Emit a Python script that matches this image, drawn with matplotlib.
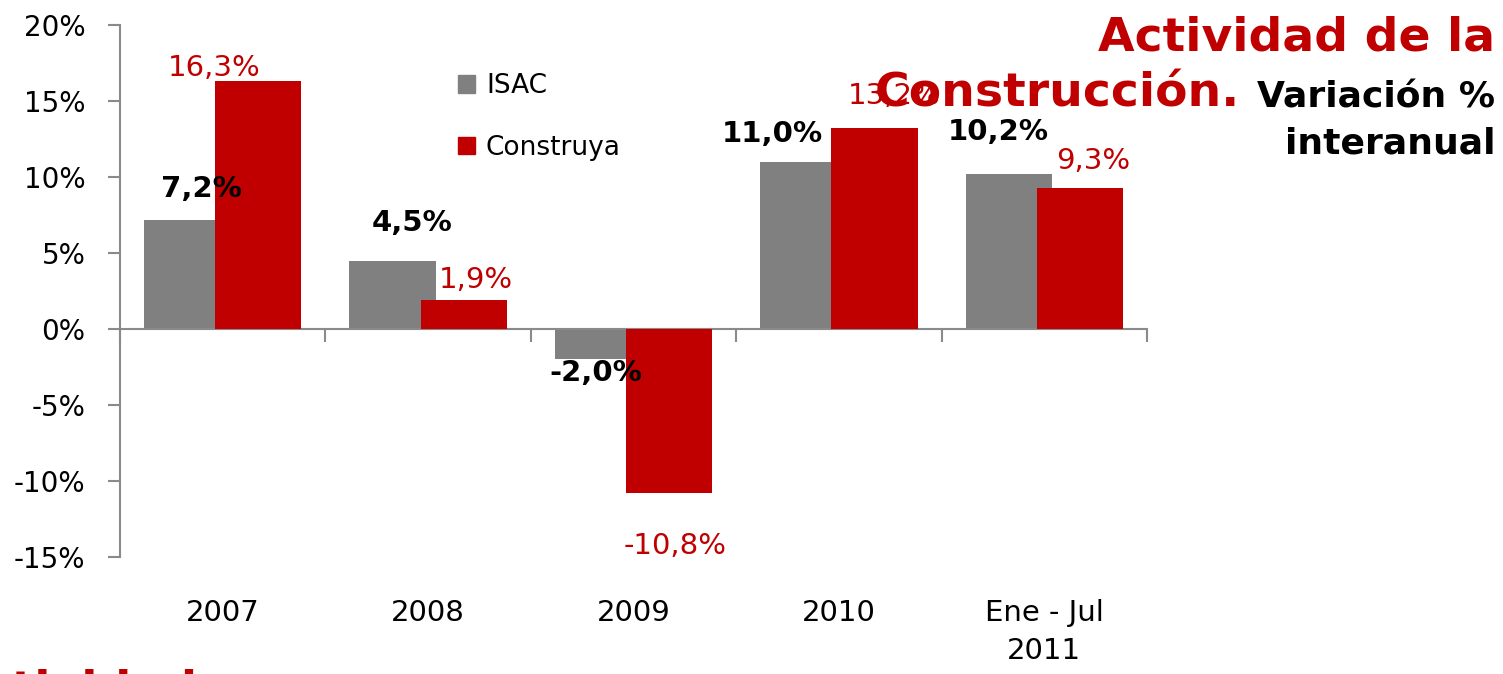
import numpy as np
from matplotlib import pyplot as plt
from matplotlib.patches import Patch

# data
categories = ["2007", "2008", "2009", "2010", "Ene - Jul\n2011"]
isac = [7.2, 4.5, -2.0, 11.0, 10.2]
construya = [16.3, 1.9, -10.8, 13.2, 9.3]
yticks = [-15, -10, -5, 0, 5, 10, 15, 20]

# label nudges in pixels (dx, dy) from the bar end
isac_nudge = [(14, 31), (19, 38), (-2, -14), (-31, 28), (-11, 42)]
cons_nudge = [(-44, 13), (12, 20), (6, -53), (20, 32), (13, 27)]

GREY = "#808080"
RED = "#C00000"
AXC = "#8a8a8a"

W, H = 1503, 674
fig = plt.figure(figsize=(W / 100, H / 100), dpi=100)
ax = fig.add_axes([120 / W, 1 - 557 / H, 1027 / W, 532 / H])

x = np.arange(len(categories))
width = 0.42
off = 0.173
ax.bar(x - off, isac, width, color=GREY, zorder=2)
ax.bar(x + off, construya, width, color=RED, zorder=3)

ax.set_xlim(-0.5, len(categories) - 0.5)
ax.set_ylim(-15, 20)

# spines
for s in ["top", "right"]:
    ax.spines[s].set_visible(False)
ax.spines["left"].set_color(AXC)
ax.spines["left"].set_linewidth(1.5)
ax.spines["bottom"].set_position(("data", 0))
ax.spines["bottom"].set_color(AXC)
ax.spines["bottom"].set_linewidth(1.5)

ax.set_yticks(yticks)
ax.set_yticklabels(["%d%%" % t for t in yticks], fontsize=20)
ax.tick_params(axis="y", length=9, width=1.5, color=AXC, pad=16)

ax.set_xticks(np.arange(len(categories) + 1) - 0.5)
ax.set_xticklabels([])
ax.tick_params(axis="x", direction="out", length=9, width=1.5, color=AXC)

for i, c in enumerate(categories):
    ax.text(i, -0.079, c, transform=ax.get_xaxis_transform(), ha="center", va="top",
            fontsize=21, linespacing=1.45)

def fmt(v):
    return ("%.1f" % v).replace(".", ",") + "%"

for i, v in enumerate(isac):
    dx, dy = isac_nudge[i]
    ax.annotate(fmt(v), (i - off, v), xytext=(dx, dy), textcoords="offset pixels",
                ha="center", va="center", fontsize=21, fontweight="bold", color="black", zorder=5)
for i, v in enumerate(construya):
    dx, dy = cons_nudge[i]
    ax.annotate(fmt(v), (i + off, v), xytext=(dx, dy), textcoords="offset pixels",
                ha="center", va="center", fontsize=21, color=RED, zorder=5)

handles = [Patch(color=GREY, label="ISAC"), Patch(color=RED, label="Construya")]
ax.legend(handles=handles, loc="upper left", bbox_to_anchor=(445 / W, 1 - 60 / H),
          bbox_transform=fig.transFigure, frameon=False, fontsize=19, borderpad=0,
          handlelength=0.65, handleheight=0.65, handletextpad=0.4, labelspacing=1.35)

# title block
fig.text(1495 / W, 1 - 38 / H, "Actividad de la", ha="right", va="center",
         fontsize=34, fontweight="bold", color=RED)
fig.text(1240 / W, 1 - 94 / H, "Construcción.", ha="right", va="center",
         fontsize=34, fontweight="bold", color=RED)
fig.text(1495 / W, 1 - 98 / H, "Variación %", ha="right", va="center",
         fontsize=26, fontweight="bold", color="black")
fig.text(1495 / W, 1 - 143 / H, "interanual", ha="right", va="center",
         fontsize=26, fontweight="bold", color="black")

# clipped text at bottom left (only ascenders show)
fig.text(-52 / W, 1 - 703 / H, "Actividad", ha="left", va="baseline",
         fontsize=34, fontweight="bold", color=RED)

fig.savefig("out.png", dpi=100)
